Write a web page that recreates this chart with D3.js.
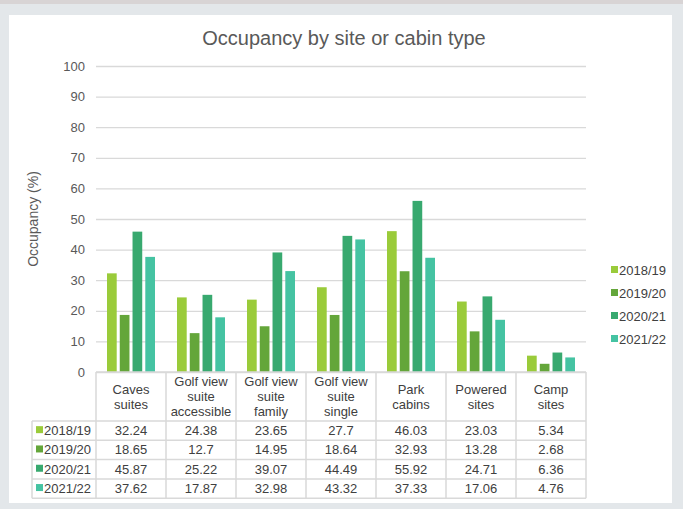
<!DOCTYPE html>
<html>
<head>
<meta charset="utf-8">
<script src="https://cdn.jsdelivr.net/npm/d3@7"></script>
<style>
  body { margin: 0; background: #e3e7ea; }
  svg { display: block; font-family: "Liberation Sans", Arial, sans-serif; }
</style>
</head>
<body>
<div id="chart"></div>
<script>
// chart data
var categories = [
  ["Caves", "suites"],
  ["Golf view", "suite", "accessible"],
  ["Golf view", "suite", "family"],
  ["Golf view", "suite", "single"],
  ["Park", "cabins"],
  ["Powered", "sites"],
  ["Camp", "sites"]
];
var years = ["2018/19", "2019/20", "2020/21", "2021/22"];
var values2018 = [32.24, 24.38, 23.65, 27.7, 46.03, 23.03, 5.34];
var values2019 = [18.65, 12.7, 14.95, 18.64, 32.93, 13.28, 2.68];
var values2020 = [45.87, 25.22, 39.07, 44.49, 55.92, 24.71, 6.36];
var values2021 = [37.62, 17.87, 32.98, 43.32, 37.33, 17.06, 4.76];
var yTicks = [0, 10, 20, 30, 40, 50, 60, 70, 80, 90, 100];
var colors = ["#9acb3a", "#64a63a", "#38a96f", "#45c3a2"];

var series = [values2018, values2019, values2020, values2021];

var svgWidth = 683;
var svgHeight = 509;

// plot area
var plot = { left: 96, right: 586, top: 66, bottom: 372 };

var svg = d3.select("#chart")
  .append("svg")
  .attr("width", svgWidth)
  .attr("height", svgHeight);

// background strip and card
svg.append("rect").attr("x", 0).attr("y", 0).attr("width", svgWidth).attr("height", 4).attr("fill", "#d8d4d5");
svg.append("rect").attr("x", 9).attr("y", 15).attr("width", 663).attr("height", 488).attr("fill", "#ffffff");

// title
svg.append("text")
  .attr("x", 344)
  .attr("y", 45)
  .attr("text-anchor", "middle")
  .attr("fill", "#595959")
  .style("font-size", "20px")
  .text("Occupancy by site or cabin type");

var catIdx = d3.range(categories.length);

var x0 = d3.scaleBand()
  .domain(catIdx)
  .range([plot.left, plot.right]);

var x1 = d3.scaleBand()
  .domain(years)
  .range([11, x0.bandwidth() - 11])
  .paddingInner(0.24);

var y = d3.scaleLinear()
  .domain([0, 100])
  .range([plot.bottom, plot.top]);

// gridlines + y labels
var leftAxis = d3.axisLeft(y)
  .tickValues(yTicks)
  .tickSize(-(plot.right - plot.left))
  .tickPadding(11);

var yAxisG = svg.append("g")
  .attr("transform", `translate(${plot.left}, 0)`)
  .call(leftAxis);
yAxisG.select(".domain").remove();
yAxisG.selectAll(".tick line").attr("stroke", "#d9d9d9").attr("stroke-width", 1.3);
yAxisG.selectAll(".tick text")
  .attr("fill", "#595959")
  .style("font-size", "13px")
  .style("font-family", "Liberation Sans, Arial, sans-serif");

// y axis title
svg.append("text")
  .attr("transform", `translate(38, ${(plot.top + plot.bottom) / 2}) rotate(-90)`)
  .attr("text-anchor", "middle")
  .attr("fill", "#595959")
  .style("font-size", "14px")
  .text("Occupancy (%)");

// bars
var groups = svg.append("g").selectAll("g")
  .data(catIdx)
  .join("g")
  .attr("transform", d => `translate(${x0(d)}, 0)`);

groups.selectAll("rect")
  .data(c => years.map((yr, i) => ({ yr: yr, i: i, v: series[i][c] })))
  .join("rect")
  .attr("x", d => x1(d.yr))
  .attr("width", x1.bandwidth())
  .attr("y", d => y(d.v))
  .attr("height", d => y(0) - y(d.v))
  .attr("fill", d => colors[d.i]);

// data table
var lineColor = "#d9d9d9";
var headerBottom = 421;
var rowH = 19.3;
var tableLeft = 32;
var tableBottom = headerBottom + rowH * years.length;
var table = svg.append("g");

// horizontal lines
table.append("line")
  .attr("x1", plot.left).attr("x2", plot.right)
  .attr("y1", plot.bottom).attr("y2", plot.bottom)
  .attr("stroke", lineColor).attr("stroke-width", 1.5);
d3.range(years.length + 1).forEach(function(r) {
  table.append("line")
    .attr("x1", tableLeft).attr("x2", plot.right)
    .attr("y1", headerBottom + r * rowH).attr("y2", headerBottom + r * rowH)
    .attr("stroke", lineColor).attr("stroke-width", 1.5);
});

// vertical lines
d3.range(categories.length + 1).forEach(function(c) {
  var xv = c < categories.length ? x0(c) : plot.right;
  table.append("line")
    .attr("x1", xv).attr("x2", xv)
    .attr("y1", plot.bottom).attr("y2", tableBottom)
    .attr("stroke", lineColor).attr("stroke-width", 1.5);
});
table.append("line")
  .attr("x1", tableLeft).attr("x2", tableLeft)
  .attr("y1", headerBottom).attr("y2", tableBottom)
  .attr("stroke", lineColor).attr("stroke-width", 1.5);

// category headers
var lineH = 15;
catIdx.forEach(function(c) {
  var lines = categories[c];
  var cy = (plot.bottom + headerBottom) / 2;
  var startY = cy - (lines.length - 1) * lineH / 2 + 4.5;
  var t = table.append("text")
    .attr("text-anchor", "middle")
    .attr("fill", "#404040")
    .style("font-size", "13px");
  lines.forEach(function(l, k) {
    t.append("tspan")
      .attr("x", x0(c) + x0.bandwidth() / 2)
      .attr("y", startY + k * lineH)
      .text(l);
  });
});

// table rows
years.forEach(function(yr, i) {
  var rowY = headerBottom + i * rowH + rowH / 2 + 4.5;
  table.append("rect")
    .attr("x", 36).attr("y", rowY - 9)
    .attr("width", 7).attr("height", 7)
    .attr("fill", colors[i]);
  table.append("text")
    .attr("x", 44).attr("y", rowY)
    .attr("fill", "#404040")
    .style("font-size", "13px")
    .text(yr);
  series[i].forEach(function(v, c) {
    table.append("text")
      .attr("x", x0(c) + x0.bandwidth() / 2)
      .attr("y", rowY)
      .attr("text-anchor", "middle")
      .attr("fill", "#404040")
      .style("font-size", "13px")
      .text(v);
  });
});

// legend
var legend = svg.append("g");
years.forEach(function(yr, i) {
  var ly = 275 + i * 23;
  legend.append("rect")
    .attr("x", 611).attr("y", ly - 9)
    .attr("width", 7).attr("height", 7)
    .attr("fill", colors[i]);
  legend.append("text")
    .attr("x", 619).attr("y", ly)
    .attr("fill", "#404040")
    .style("font-size", "13px")
    .text(yr);
});
</script>
</body>
</html>
